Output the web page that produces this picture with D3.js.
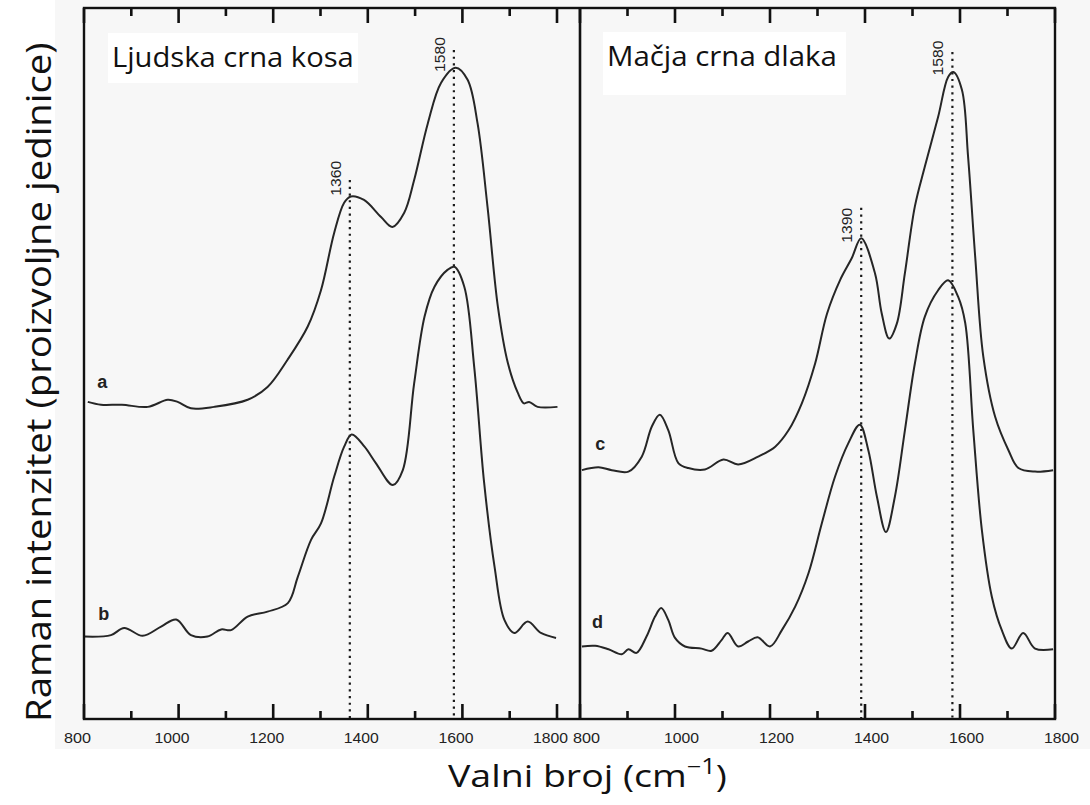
<!DOCTYPE html>
<html><head><meta charset="utf-8">
<script src="https://cdn.jsdelivr.net/npm/d3@7"></script>
<style>
html,body{margin:0;padding:0;background:#fff;}
svg{display:block;}
</style>
</head><body>
<svg id="chart" width="1090" height="805"></svg>
<script>
// ---------- data ----------
const panelTitles = ["Ljudska crna kosa", "Mačja crna dlaka"];
const xTickValues = [800, 900, 1000, 1100, 1200, 1300, 1400, 1500, 1600, 1700, 1800];
const xTickLabels = [800, 1000, 1200, 1400, 1600, 1800];
const seriesNames = ["a", "b", "c", "d"];

const seriesA = [[808,44.6],[836,44.2],[880,44.2],[935,43.9],[977,44.9],[998,44.6],[1026,43.7],[1075,43.9],[1146,44.9],[1188,46.7],[1230,50.5],[1273,55.2],[1301,60.3],[1329,68.4],[1350,72.6],[1364,73.5],[1392,73.0],[1428,70.6],[1452,69.2],[1477,71.2],[1498,75.8],[1527,83.8],[1555,89.5],[1586,91.6],[1611,89.9],[1632,83.8],[1653,72.1],[1675,58.0],[1696,50.1],[1717,45.9],[1730,44.4],[1741,44.6],[1759,43.9],[1801,43.9]];
const seriesB = [[801,11.6],[857,11.8],[885,12.8],[924,11.7],[963,13.0],[995,14.0],[1026,11.8],[1061,11.6],[1090,12.6],[1111,12.5],[1146,14.4],[1188,15.1],[1231,16.3],[1252,20.0],[1280,25.2],[1301,27.5],[1329,34.1],[1350,38.3],[1366,40.0],[1393,38.3],[1417,36.0],[1453,32.9],[1474,35.0],[1498,47.2],[1520,56.6],[1541,60.8],[1569,63.2],[1583,63.6],[1604,60.8],[1625,49.5],[1646,33.2],[1668,21.4],[1689,13.9],[1710,12.1],[1738,13.7],[1766,12.1],[1798,11.4]];
const seriesC = [[804,35.0],[839,35.4],[867,35.0],[902,34.8],[930,36.9],[951,41.1],[968,42.8],[986,40.6],[1007,36.0],[1028,35.3],[1063,35.1],[1102,36.5],[1133,35.8],[1175,36.9],[1211,38.3],[1239,40.6],[1267,44.4],[1295,50.0],[1320,57.0],[1348,61.8],[1372,64.8],[1392,67.6],[1421,62.7],[1435,57.1],[1451,53.5],[1467,55.6],[1484,62.7],[1505,72.1],[1526,77.7],[1554,84.7],[1575,90.3],[1586,91.0],[1604,88.5],[1617,79.1],[1632,65.0],[1649,51.0],[1674,42.5],[1702,37.8],[1723,35.3],[1758,34.8],[1796,35.0]];
const seriesD = [[804,10.2],[832,10.3],[860,9.8],[888,9.1],[902,9.8],[919,9.3],[940,11.6],[958,14.4],[971,15.6],[986,13.9],[1000,11.4],[1021,10.2],[1056,9.9],[1077,9.6],[1098,11.1],[1111,12.1],[1133,10.2],[1154,10.9],[1174,11.5],[1200,10.2],[1225,12.5],[1253,15.8],[1281,20.5],[1309,27.5],[1337,34.1],[1365,38.8],[1389,41.4],[1407,37.8],[1425,31.3],[1444,26.3],[1463,31.3],[1484,40.6],[1505,50.0],[1526,56.6],[1554,60.3],[1575,61.7],[1596,59.4],[1611,55.7],[1628,40.6],[1646,26.6],[1667,17.2],[1688,12.5],[1709,9.9],[1733,12.1],[1758,9.9],[1796,9.8]];

// series label anchor [wavenumber, intensity]
const seriesLabelPos = [[828,46.5],[830,13.9],[832,37.8],[825,12.8]];

// peak markers: line position, label text, top of dotted line, label base
const leftPeakPos = [1362, 1582];
const leftPeakText = ["1360", "1580"];
const leftPeakTop = [75.8, 94.1];
const leftPeakLabelBase = [73.6, 91.0];
const rightPeakPos = [1392, 1584];
const rightPeakText = ["1390", "1580"];
const rightPeakTop = [71.9, 93.8];
const rightPeakLabelBase = [67.0, 90.5];

// ---------- layout ----------
const svg = d3.select("#chart");
const W = 1090, H = 805;
const plotTop = 8, plotBottom = 719;
const leftX0 = 84, midX = 580, rightX1 = 1055;

const y = d3.scaleLinear().domain([0, 100]).range([plotBottom, plotTop]);
const xL = d3.scaleLinear().domain([800, 800 + (midX - leftX0) / 0.473]).range([leftX0, midX]);
const xR = d3.scaleLinear().domain([800, 1800]).range([midX, rightX1]);

// figure background
svg.append("rect").attr("x", 0).attr("y", 0).attr("width", W).attr("height", H).attr("fill", "#ffffff");
svg.append("rect").attr("x", 55).attr("y", 0).attr("width", W - 55).attr("height", 749).attr("fill", "#f7f7f7");

const lineGen = (xs) => d3.line().x(d => xs(d[0])).y(d => y(d[1])).curve(d3.curveCatmullRom.alpha(0.5));

function fitWidth(sel, target, x, yy) {
  const w = sel.node().getComputedTextLength();
  const k = target / w;
  sel.attr("x", null).attr("y", null).attr("transform", `translate(${x},${yy}) scale(${k},1)`);
}

function panel(xs, seriesList, names, labelPos, peakPos, peakText, peakTop, peakLabelBase, labelDx, titleText, titleBox, titleWidth) {
  const g = svg.append("g");
  g.append("rect").attr("x", titleBox[0]).attr("y", titleBox[1]).attr("width", titleBox[2]).attr("height", titleBox[3]).attr("fill", "#ffffff");
  const t = g.append("text")
    .attr("font-family", "'Open Sans', 'Noto Sans', sans-serif").attr("font-size", 28).attr("fill", "#111")
    .text(titleText);
  fitWidth(t, titleWidth, titleBox[0] + 4, titleBox[1] + 34);

  peakPos.forEach((p, i) => {
    g.append("line").attr("x1", xs(p)).attr("x2", xs(p)).attr("y1", y(peakTop[i])).attr("y2", plotBottom)
      .attr("stroke", "#1a1a1a").attr("stroke-width", 2.2).attr("stroke-dasharray", "2.2,4.5");
    g.append("text")
      .attr("transform", `translate(${xs(p) - 9},${y(peakLabelBase[i])}) rotate(-90)`)
      .attr("font-family", "'Liberation Sans', Arial, sans-serif").attr("font-size", 14).attr("fill", "#222")
      .attr("textLength", 35).attr("lengthAdjust", "spacingAndGlyphs")
      .text(peakText[i]);
  });

  seriesList.forEach((s, i) => {
    g.append("path").attr("d", lineGen(xs)(s)).attr("fill", "none").attr("stroke", "#262626").attr("stroke-width", 2);
    g.append("text").attr("x", xs(labelPos[i][0])).attr("y", y(labelPos[i][1]))
      .attr("font-family", "'Liberation Sans', Arial, sans-serif").attr("font-weight", "bold").attr("font-size", 18).attr("fill", "#222")
      .text(names[i]);
  });

  // inward ticks (bottom and top)
  const tickLen = v => (v % 200 === 0 ? 15 : 8);
  g.selectAll("rect.tickb").data(xTickValues).join("rect").attr("class", "tickb")
    .attr("x", d => xs(d) - 1.3).attr("width", 2.6)
    .attr("y", d => plotBottom - tickLen(d)).attr("height", d => tickLen(d))
    .attr("fill", "#111");
  g.selectAll("rect.tickt").data(xTickValues).join("rect").attr("class", "tickt")
    .attr("x", d => xs(d) - 1.3).attr("width", 2.6)
    .attr("y", plotTop).attr("height", d => tickLen(d))
    .attr("fill", "#111");

  const axL = g.append("g").attr("transform", `translate(0,${plotBottom})`)
    .call(d3.axisBottom(xs).tickValues(xTickLabels).tickSize(0).tickPadding(14).tickFormat(d3.format("d")));
  axL.select(".domain").remove();
  axL.selectAll(".tick text").attr("dx", labelDx).attr("font-family", "'Liberation Sans', Arial, sans-serif").attr("font-size", 14).attr("fill", "#222")
    .attr("textLength", d => (String(d).length === 4 ? 35 : 27)).attr("lengthAdjust", "spacingAndGlyphs");
}

panel(xL, [seriesA, seriesB], seriesNames.slice(0, 2), seriesLabelPos.slice(0, 2), leftPeakPos, leftPeakText, leftPeakTop, leftPeakLabelBase, -7,
  panelTitles[0], [108, 33, 250, 50], 242);
panel(xR, [seriesC, seriesD], seriesNames.slice(2), seriesLabelPos.slice(2), rightPeakPos, rightPeakText, rightPeakTop, rightPeakLabelBase, 6,
  panelTitles[1], [603, 32, 243, 63], 230);

// frames
svg.append("rect").attr("x", leftX0).attr("y", plotTop).attr("width", rightX1 - leftX0).attr("height", plotBottom - plotTop)
  .attr("fill", "none").attr("stroke", "#111").attr("stroke-width", 2.4);
svg.append("line").attr("x1", midX).attr("x2", midX).attr("y1", plotTop).attr("y2", plotBottom).attr("stroke", "#111").attr("stroke-width", 2.6);

// axis titles
const xt = svg.append("text").attr("font-family", "'Open Sans', 'Noto Sans', sans-serif").attr("font-size", 31).attr("fill", "#111");
xt.append("tspan").text("Valni broj (cm");
xt.append("tspan").attr("font-size", 21).attr("dy", -13).text("−1");
xt.append("tspan").attr("dy", 13).text(")");
{
  const w = xt.node().getBBox().width;
  const k = 279 / w;
  xt.attr("transform", `translate(448,787) scale(${k},1)`);
}
const yt = svg.append("text").attr("font-family", "'Open Sans', 'Noto Sans', sans-serif").attr("font-size", 35).attr("fill", "#111")
  .text("Raman intenzitet (proizvoljne jedinice)");
{
  const w = yt.node().getComputedTextLength();
  const k = 680 / w;
  yt.attr("transform", `translate(51,722) rotate(-90) scale(${k},1)`);
}
</script>
</body></html>
